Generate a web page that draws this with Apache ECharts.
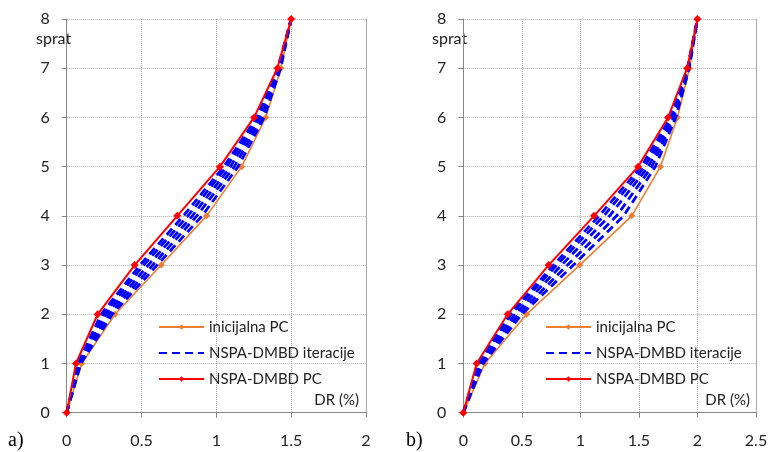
<!DOCTYPE html>
<html>
<head>
<meta charset="utf-8">
<script src="https://cdn.jsdelivr.net/npm/echarts@6/dist/echarts.min.js"></script>
<style>html,body{margin:0;padding:0;background:#fff}#c{width:771px;height:452px}</style>
</head>
<body>
<div id="c"></div>
<script>
// floors (sprat)
var floors = [0, 1, 2, 3, 4, 5, 6, 7, 8];
// x ticks
var xTicksA = [0, 0.5, 1, 1.5, 2];
var xTicksB = [0, 0.5, 1, 1.5, 2, 2.5];

// Chart a) - DR (%)
var aInitial = [0, 0.10, 0.323, 0.632, 0.935, 1.169, 1.33, 1.432, 1.5];
var aFinal   = [0, 0.062, 0.207, 0.454, 0.739, 1.024, 1.252, 1.408, 1.5];
var aIter1 = [0, 0.095, 0.305, 0.605, 0.905, 1.145, 1.32, 1.43, 1.5];
var aIter2 = [0, 0.09, 0.285, 0.575, 0.87, 1.12, 1.305, 1.425, 1.5];
var aIter3 = [0, 0.085, 0.265, 0.545, 0.84, 1.095, 1.29, 1.42, 1.5];
var aIter4 = [0, 0.08, 0.245, 0.515, 0.81, 1.07, 1.28, 1.415, 1.5];
var aIter5 = [0, 0.075, 0.23, 0.49, 0.78, 1.05, 1.27, 1.41, 1.5];

// Chart b) - DR (%)
var bInitial = [0, 0.185, 0.541, 0.994, 1.439, 1.684, 1.829, 1.932, 2.0];
var bFinal   = [0, 0.114, 0.379, 0.729, 1.117, 1.493, 1.749, 1.912, 2.0];
var bIter1 = [0, 0.17, 0.50, 0.94, 1.37, 1.64, 1.815, 1.93, 2.0];
var bIter2 = [0, 0.16, 0.47, 0.89, 1.31, 1.61, 1.80, 1.925, 2.0];
var bIter3 = [0, 0.15, 0.44, 0.84, 1.25, 1.58, 1.79, 1.92, 2.0];
var bIter4 = [0, 0.135, 0.41, 0.80, 1.20, 1.55, 1.78, 1.915, 2.0];
var bIter5 = [0, 0.125, 0.395, 0.77, 1.16, 1.52, 1.77, 1.915, 2.0];

var nameInitial = 'inicijalna PC';
var nameIter = 'NSPA-DMBD iteracije';
var nameFinal = 'NSPA-DMBD PC';
var FONT = 'Lato, "Open Sans", sans-serif';

function pairs(xs) { return xs.map(function (v, i) { return [v, floors[i]]; }); }

var cOrange = '#ED7D31', cBlue = '#0000FF', cRed = '#FF0000';

function mkSeries(gi, init, iters, fin) {
  var s = [];
  s.push({ name: nameInitial, type: 'line', xAxisIndex: gi, yAxisIndex: gi * 2, data: pairs(init),
    symbol: 'diamond', symbolSize: 7, lineStyle: { color: cOrange, width: 1.6 }, itemStyle: { color: cOrange },
    z: 3, animation: false });
  iters.forEach(function (it) {
    s.push({ name: nameIter, type: 'line', xAxisIndex: gi, yAxisIndex: gi * 2, data: pairs(it),
      symbol: 'none', lineStyle: { color: cBlue, width: 2.8, type: [8, 5] }, itemStyle: { color: cBlue },
      z: 4, animation: false });
  });
  s.push({ name: nameFinal, type: 'line', xAxisIndex: gi, yAxisIndex: gi * 2, data: pairs(fin),
    symbol: 'diamond', symbolSize: 8, lineStyle: { color: cRed, width: 2 }, itemStyle: { color: cRed },
    z: 5, animation: false });
  return s;
}

function xAx(gi, ticks) {
  return { type: 'value', gridIndex: gi, min: ticks[0], max: ticks[ticks.length - 1], interval: 0.5,
    axisLine: { show: true, onZero: false, lineStyle: { color: '#888', width: 1 } },
    axisTick: { show: true, length: 5, lineStyle: { color: '#888' } },
    axisLabel: { fontFamily: FONT, fontSize: 16, color: '#222', margin: 20,
      formatter: function (v) { return String(v); } },
    splitLine: { show: true, lineStyle: { color: '#aaa', type: 'dotted', width: 1 } } };
}
function yAx(gi) {
  return { type: 'value', gridIndex: gi, min: 0, max: 8, interval: 1,
    axisLine: { show: true, onZero: false, lineStyle: { color: '#888', width: 1 } },
    axisTick: { show: true, length: 5, lineStyle: { color: '#888' } },
    axisLabel: { fontFamily: FONT, fontSize: 16, color: '#222', margin: 17 },
    splitLine: { show: true, lineStyle: { color: '#aaa', type: 'dotted', width: 1 } } };
}
function yRight(gi) {
  return { type: 'value', gridIndex: gi, min: 0, max: 8, interval: 1, position: 'right',
    axisLine: { show: true, onZero: false, lineStyle: { color: '#aaa', width: 1 } },
    axisTick: { show: false }, axisLabel: { show: false }, splitLine: { show: false } };
}

function legendAt(left) {
  return {
    orient: 'vertical', left: left, top: 314, itemWidth: 45, itemHeight: 7, itemGap: 10,
    textStyle: { fontFamily: FONT, fontSize: 15, color: '#222', lineHeight: 16 },
    data: [nameInitial, { name: nameIter, itemStyle: { opacity: 0 } }, nameFinal],
    selectedMode: false
  };
}

var option = {
  backgroundColor: '#fff',
  animation: false,
  grid: [
    { left: 66.7, right: 405, top: 19, bottom: 39.3 },
    { left: 463.3, right: 15, top: 19, bottom: 39.3 }
  ],
  xAxis: [xAx(0, xTicksA), xAx(1, xTicksB)],
  yAxis: [yAx(0), yRight(0), yAx(1), yRight(1)],
  legend: [legendAt(153), legendAt(540)],
  series: [].concat(
    mkSeries(0, aInitial, [aIter1, aIter2, aIter3, aIter4, aIter5], aFinal),
    mkSeries(1, bInitial, [bIter1, bIter2, bIter3, bIter4, bIter5], bFinal)
  ),
  graphic: [
    { type: 'text', left: 36, top: 31, style: { text: 'sprat', font: '16px ' + FONT, fill: '#222' } },
    { type: 'text', left: 432, top: 31, style: { text: 'sprat', font: '16px ' + FONT, fill: '#222' } },
    { type: 'text', right: 412, top: 393, style: { text: 'DR (%)', font: '15px ' + FONT, fill: '#222' } },
    { type: 'text', right: 21, top: 393, style: { text: 'DR (%)', font: '15px ' + FONT, fill: '#222' } },
    { type: 'text', left: 8, top: 431, style: { text: 'a)', font: '20px "Liberation Serif", serif', fill: '#000' } },
    { type: 'text', left: 406, top: 431, style: { text: 'b)', font: '20px "Liberation Serif", serif', fill: '#000' } }
  ]
};
var chart = echarts.init(document.getElementById('c'), null, { renderer: 'canvas' });
chart.setOption(option);
</script>
</body>
</html>
